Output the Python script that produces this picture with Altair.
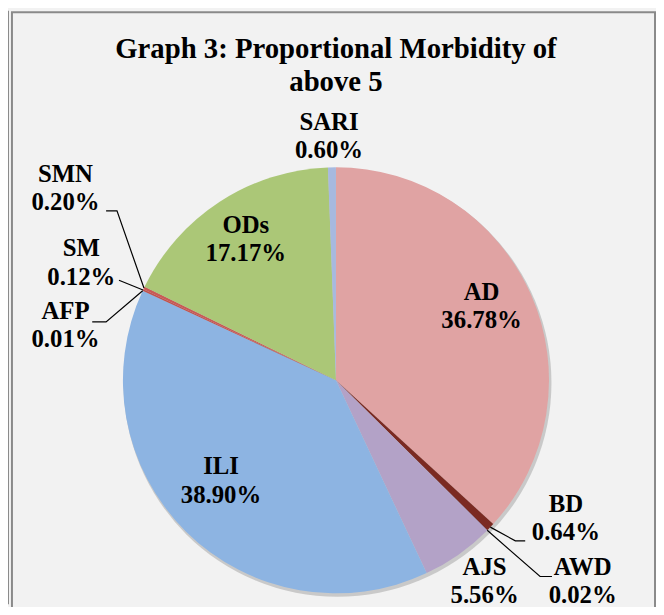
import altair as alt
import pandas as pd
import numpy as np

# ---------------- data ----------------
categories = ["AD", "BD", "AWD", "AJS", "ILI", "AFP", "SM", "SMN", "ODs", "SARI"]
values = [36.78, 0.64, 0.02, 5.56, 38.90, 0.01, 0.12, 0.20, 17.17, 0.60]
value_labels = ["36.78%", "0.64%", "0.02%", "5.56%", "38.90%", "0.01%", "0.12%", "0.20%", "17.17%", "0.60%"]
colors = ["#E0A3A3", "#7B2A22", "#604A7B", "#B3A2C7", "#8DB4E2",
          "#31859C", "#C0504D", "#C95A55", "#ABC777", "#A7B9DF"]
title_lines = ["Graph 3: Proportional Morbidity of", "above 5"]

# ---------------- layout ----------------
W, H = 654, 599
CX, CY, R = 331, 373, 215
FONT = "Liberation Serif"

# label anchor (center x, first-line baseline) in chart pixels
label_pos = {
    "AD": (478, 292), "ILI": (215, 468), "ODs": (240, 224), "SARI": (324, 120),
    "SMN": (58, 173), "SM": (74, 248), "AFP": (58, 311),
    "BD": (563, 506), "AWD": (580, 569), "AJS": (481, 569),
}
# leader line bends / ends (after the slice-edge start point)
leader_path = {
    "BD": [(512, 535), (522, 535)],
    "AWD": [(537, 571), (549, 571)],
    "SMN": [(110, 202), (99, 202)],
    "SM": [(112, 272)],
    "AFP": [(99, 314), (85, 314)],
}

df = pd.DataFrame({
    "cat": categories,
    "value": values,
    "order": list(range(len(categories))),
})

# label table
lab = pd.DataFrame({
    "cat": categories,
    "text": [f"{c}\n{v}" for c, v in zip(categories, value_labels)],
    "x": [label_pos[c][0] for c in categories],
    "y": [label_pos[c][1] for c in categories],
})

# leader lines: start at slice edge (mid-angle, from data)
vals = np.array(values)
cum = np.cumsum(vals)
mid = (cum - vals / 2) / vals.sum() * 2 * np.pi
rows = []
for i, c in enumerate(categories):
    if c in leader_path:
        sx = CX + R * np.sin(mid[i])
        sy = CY - R * np.cos(mid[i])
        pts = [(sx, sy)] + leader_path[c]
        for k, (px, py) in enumerate(pts):
            rows.append({"cat": c, "seq": k, "x": px, "y": py})
leaders = pd.DataFrame(rows)

# ---------------- chart ----------------
shadow = alt.Chart(pd.DataFrame({"v": [100]})).mark_arc(
    radius=R + 1, color="#c9c9c9"
).encode(theta=alt.Theta("v:Q"), x=alt.value(CX + 1.5), y=alt.value(CY + 2.5))

pie = alt.Chart(df).mark_arc(radius=R).encode(
    theta=alt.Theta("value:Q", stack=True),
    order=alt.Order("order:Q", sort="ascending"),
    color=alt.Color("cat:N", scale=alt.Scale(domain=categories, range=colors), legend=None),
    x=alt.value(CX),
    y=alt.value(CY),
)

leader_lines = alt.Chart(leaders).mark_line(color="black", strokeWidth=1.2).encode(
    x=alt.X("x:Q", scale=None, axis=None),
    y=alt.Y("y:Q", scale=None, axis=None),
    detail="cat:N",
    order="seq:Q",
)

labels = alt.Chart(lab).mark_text(
    font=FONT, fontSize=25, fontWeight="bold", color="black",
    lineBreak="\n", lineHeight=28.5, align="center", baseline="alphabetic",
).encode(
    x=alt.X("x:Q", scale=None, axis=None),
    y=alt.Y("y:Q", scale=None, axis=None),
    text="text:N",
)

title = alt.Chart(pd.DataFrame({"t": ["\n".join(title_lines)]})).mark_text(
    font=FONT, fontSize=29, fontWeight="bold", color="black",
    lineBreak="\n", lineHeight=33, align="center", baseline="alphabetic",
).encode(x=alt.value(331), y=alt.value(48), text="t:N")

frame = alt.Chart(pd.DataFrame({"a": [0]})).mark_rect(
    fill=None, stroke="#8a8a8a", strokeWidth=2
).encode(x=alt.value(4), x2=alt.value(653), y=alt.value(1.5), y2=alt.value(H + 20))

outer = alt.Chart(pd.DataFrame({"a": [0]})).mark_rule(
    color="#8a8a8a", strokeWidth=2
).encode(x=alt.value(0), y=alt.value(0), y2=alt.value(H))

chart = alt.layer(shadow, pie, leader_lines, labels, title, frame, outer).properties(
    width=W, height=H, background="#f2f2f2", padding=0,
    autosize=alt.AutoSizeParams(type="none"),
).configure_view(stroke=None)

chart.save("out.html", embed_options={"renderer": "svg", "actions": False})
